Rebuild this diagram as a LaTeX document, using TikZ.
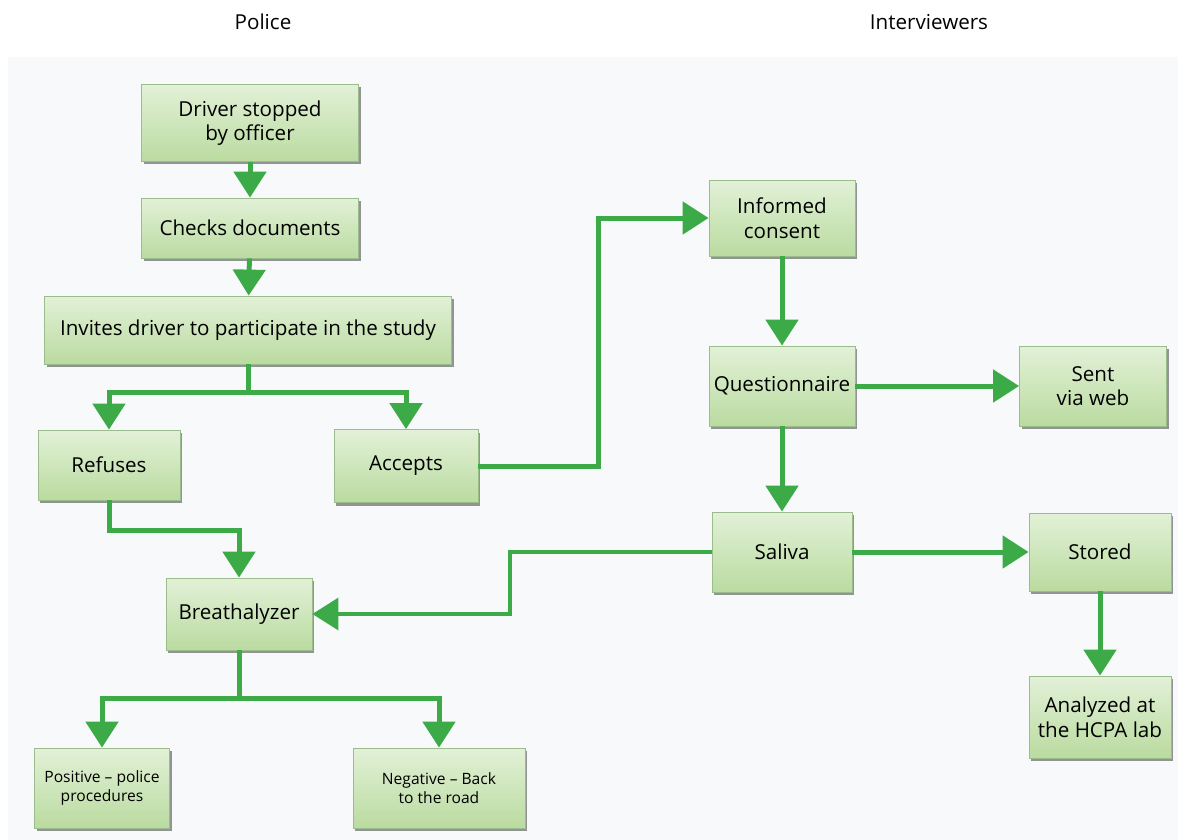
\documentclass[tikz,border=0pt]{standalone}
\usepackage{fontspec}
\setmainfont{Open Sans}
\usetikzlibrary{positioning, arrows.meta, shadows}
\definecolor{flowgreen}{HTML}{3DAA48}
\definecolor{boxtop}{HTML}{E2F1D7}
\definecolor{boxbottom}{HTML}{BADBA0}
\definecolor{boxedge}{HTML}{9CBC8B}
\definecolor{panelbg}{HTML}{F7F9FB}

\begin{document}
\begin{tikzpicture}[x=0.5pt, y=-0.5pt, font=\fontsize{10.3}{12.3}\selectfont,
    stepbox/.style={draw=boxedge, top color=boxtop, bottom color=boxbottom,
      align=center, inner sep=2pt,
      drop shadow={shadow xshift=1pt, shadow yshift=-1.5pt, opacity=0.55, fill=black!75}},
    flow/.style={-{Triangle[width=16pt, length=13pt]}, line width=2.5pt, draw=flowgreen}]
    \useasboundingbox (0,0) rectangle (1178,840);
    \fill[panelbg] (8,57) rectangle (1178,840);
    % column titles
    \node (police) at (263,22) {Police};
    \node (interv) at (929,22) {Interviewers};
    % POLICE
    \node[stepbox, minimum width=108.5pt, minimum height=38.5pt] (driver) at (250,123) {Driver stopped\\by officer};
    \node[stepbox, minimum width=108.5pt, minimum height=30pt] (checks) at (250,228) {Checks documents};
    \node[stepbox, minimum width=203.5pt, minimum height=34pt] (invites) at (248,330) {Invites driver to participate in the study};
    \node[stepbox, minimum width=71pt, minimum height=35pt] (refuses) at (109,465) {Refuses};
    \node[stepbox, minimum width=72pt, minimum height=36.5pt] (accepts) at (406,466) {Accepts};
    \node[stepbox, minimum width=73pt, minimum height=36pt] (breath) at (239,614) {Breathalyzer};
    \node[stepbox, minimum width=67.5pt, minimum height=40pt, font=\fontsize{7.8}{9.5}\selectfont] (positive) at (102,788) {Positive -- police\\procedures};
    \node[stepbox, minimum width=86pt, minimum height=40pt, font=\fontsize{7.8}{9.5}\selectfont] (negative) at (439,788) {Negative -- Back\\to the road};
    % INTERVIEWERS
    \node[stepbox, minimum width=73pt, minimum height=38pt] (informed) at (782,218) {Informed\\consent};
    \node[stepbox, minimum width=73pt, minimum height=40pt] (quest) at (782,386) {Questionnaire};
    \node[stepbox, minimum width=73.5pt, minimum height=40pt] (sent) at (1093,386) {Sent\\via web};
    \node[stepbox, minimum width=70pt, minimum height=40pt] (saliva) at (782,552) {Saliva};
    \node[stepbox, minimum width=71pt, minimum height=39pt] (stored) at (1100,552) {Stored};
    \node[stepbox, minimum width=71pt, minimum height=41pt] (analyzed) at (1100,717) {Analyzed at\\the HCPA lab};
    % bends
    \coordinate (split1) at (248,392);
    \coordinate (rbend) at (109,530);
    \coordinate (abend) at (598,218);
    \coordinate (sbend) at (510,585);
    \coordinate (split2) at (239,698);
    % arrows
    \draw[flow] (driver) -- (checks);
    \draw[flow] (checks) -- (invites);
    \draw[line width=2.5pt, draw=flowgreen] (invites.south) -- (split1);
    \draw[flow] (split1) -| (refuses.north);
    \draw[flow] (split1) -| (accepts.north);
    \draw[flow] (refuses.south) -- (rbend) -| (breath.north);
    \draw[flow] (accepts.east) -| (abend) -- (informed.west);
    \draw[flow] (informed) -- (quest);
    \draw[flow] (quest) -- (sent);
    \draw[flow] (quest) -- (saliva);
    \draw[flow] (saliva) -- (stored);
    \draw[flow] (stored) -- (analyzed);
    \draw[flow, line width=1.7pt] (saliva.west) -| (sbend) |- (breath.east);
    \draw[line width=2.5pt, draw=flowgreen] (breath.south) -- (split2);
    \draw[flow] (split2) -| (positive.north);
    \draw[flow] (split2) -| (negative.north);
\end{tikzpicture}
\end{document}
